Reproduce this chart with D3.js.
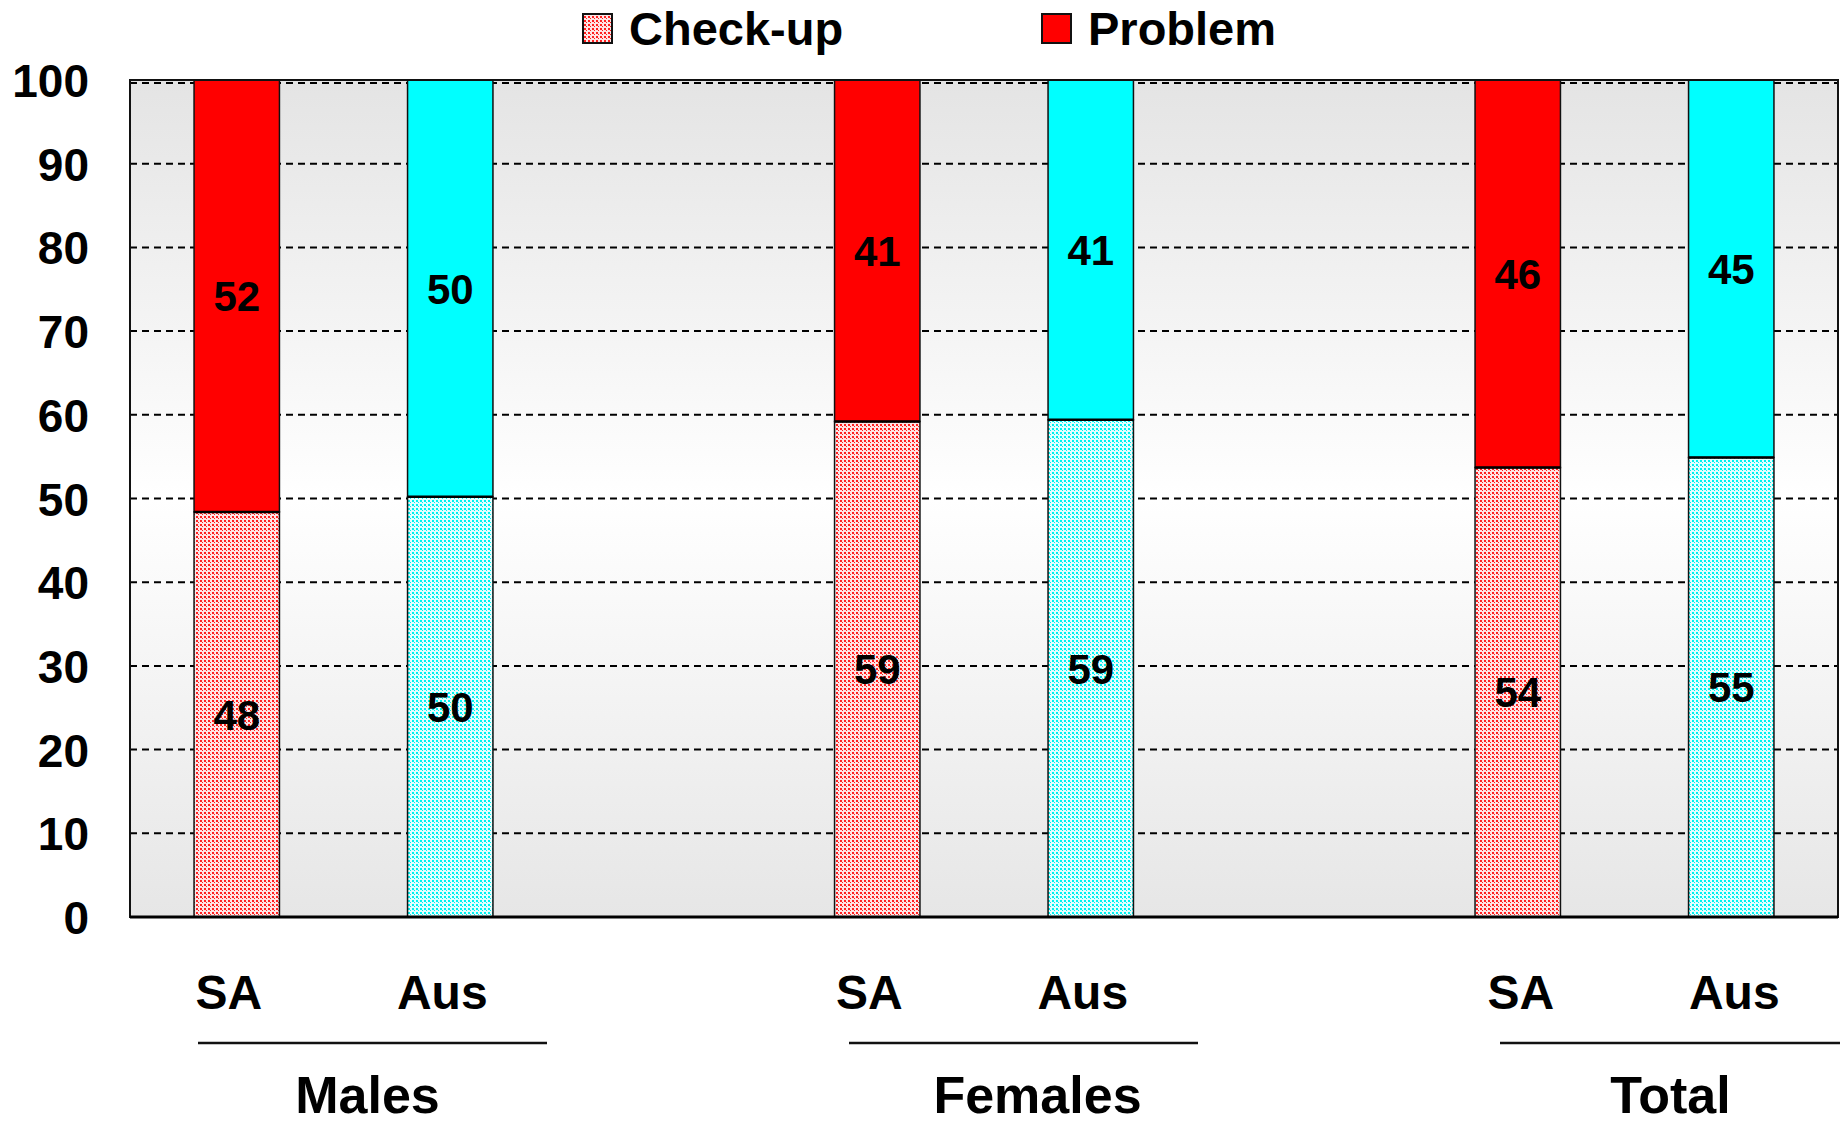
<!DOCTYPE html>
<html><head><meta charset="utf-8">
<script src="https://cdn.jsdelivr.net/npm/d3@7"></script>
<style>html,body{margin:0;padding:0;background:#fff;}svg{display:block;font-family:"Liberation Sans",Arial,sans-serif;font-weight:bold;}</style>
</head><body><svg id="c" width="1840" height="1126"></svg>
<script>
const groups = ["Males", "Females", "Total"];
const regions = ["SA", "Aus"];
const checkup = [48.4, 50.2, 59.2, 59.4, 53.7, 54.9];
const problem = [51.6, 49.8, 40.8, 40.6, 46.3, 45.1];
const yTicks = [0, 10, 20, 30, 40, 50, 60, 70, 80, 90, 100];
const legendLabels = ["Check-up", "Problem"];

const svg = d3.select("#c");
const L = 130, R = 1838, T = 80, B = 917;

const slots = [];
const bars = [];
groups.forEach((g, gi) => {
  regions.forEach((r, ri) => {
    const k = g + "-" + r;
    slots.push(k);
    const i = gi * 2 + ri;
    bars.push({key: k, group: g, region: r, gi, ri, check: checkup[i], prob: problem[i]});
  });
  if (gi < groups.length - 1) slots.push("gap" + gi);
});

const x = d3.scaleBand().domain(slots).range([L, R]).paddingInner(0.6).paddingOuter(0.3);
const y = d3.scaleLinear().domain([0, 100]).range([B, T]);

const defs = svg.append("defs");
const grad = defs.append("linearGradient").attr("id", "bg").attr("x1", 0).attr("y1", 0).attr("x2", 0).attr("y2", 1);
grad.append("stop").attr("offset", "0%").attr("stop-color", "#e4e4e4");
grad.append("stop").attr("offset", "50%").attr("stop-color", "#ffffff");
grad.append("stop").attr("offset", "100%").attr("stop-color", "#e6e6e6");

function mkPattern(id, base, dot) {
  const p = defs.append("pattern").attr("id", id).attr("patternUnits", "userSpaceOnUse").attr("width", 4).attr("height", 4);
  p.append("rect").attr("width", 4).attr("height", 4).attr("fill", base);
  p.append("rect").attr("x", 0).attr("y", 0).attr("width", 2).attr("height", 2).attr("fill", dot);
  p.append("rect").attr("x", 2).attr("y", 2).attr("width", 1).attr("height", 1).attr("fill", dot);
}
mkPattern("patR", "#ffe4e4", "#ff2020");
mkPattern("patC", "#e4ffff", "#00f0f0");

svg.append("rect").attr("x", L).attr("y", T).attr("width", R - L).attr("height", B - T).attr("fill", "url(#bg)");

svg.append("g").selectAll("line").data(yTicks.filter(d => d > 0)).join("line")
  .attr("x1", L).attr("x2", R).attr("y1", d => y(d) + (d === 100 ? 3 : 0)).attr("y2", d => y(d) + (d === 100 ? 3 : 0))
  .attr("stroke", "#000").attr("stroke-width", 2).attr("stroke-dasharray", "7,5");

const bw = x.bandwidth();
const bg = svg.append("g");
bars.forEach(b => {
  const isSA = b.ri === 0;
  bg.append("rect").attr("x", x(b.key)).attr("width", bw)
    .attr("y", y(b.check)).attr("height", y(0) - y(b.check))
    .attr("fill", isSA ? "url(#patR)" : "url(#patC)").attr("stroke", "#111").attr("stroke-width", 1.5);
  bg.append("rect").attr("x", x(b.key)).attr("width", bw)
    .attr("y", y(b.check + b.prob)).attr("height", y(b.check) - y(b.check + b.prob))
    .attr("fill", isSA ? "#ff0000" : "#00ffff").attr("stroke", "#111").attr("stroke-width", 1.5);
  bg.append("line").attr("x1", x(b.key)).attr("x2", x(b.key) + bw).attr("y1", y(b.check)).attr("y2", y(b.check))
    .attr("stroke", "#000").attr("stroke-width", 2.5);
  bg.append("text").attr("x", x(b.key) + bw / 2).attr("y", y(b.check / 2)).attr("dy", "0.36em")
    .attr("text-anchor", "middle").attr("font-size", 42).text(Math.round(b.check));
  bg.append("text").attr("x", x(b.key) + bw / 2).attr("y", y(b.check + b.prob / 2)).attr("dy", "0.36em")
    .attr("text-anchor", "middle").attr("font-size", 42).text(Math.round(b.prob));
});

svg.append("rect").attr("x", L).attr("y", T).attr("width", R - L).attr("height", B - T)
  .attr("fill", "none").attr("stroke", "#111").attr("stroke-width", 2);
svg.append("line").attr("x1", L).attr("x2", R).attr("y1", B).attr("y2", B).attr("stroke", "#000").attr("stroke-width", 3);

const ya = svg.append("g").attr("transform", `translate(${L},0)`)
  .call(d3.axisLeft(y).tickValues(yTicks).tickSize(0).tickPadding(41));
ya.select(".domain").remove();
ya.selectAll("text").attr("font-size", 46).attr("font-family", "Liberation Sans, Arial, sans-serif").attr("font-weight", "bold").attr("fill", "#000").attr("dy", "0.36em");

const catOffset = [-8, -8, 3];
svg.append("g").selectAll("text").data(bars).join("text")
  .attr("x", d => x(d.key) + bw / 2 + catOffset[d.gi]).attr("y", 992).attr("dy", "0.36em")
  .attr("text-anchor", "middle").attr("font-size", 48).text(d => d.region);

const gx = d3.scaleLinear().domain([0, 1]).range([198, 849]);
const lineW = 349;
groups.forEach((g, gi) => {
  const x0 = gx(gi);
  svg.append("line").attr("x1", x0).attr("x2", x0 + lineW).attr("y1", 1043).attr("y2", 1043)
    .attr("stroke", "#111").attr("stroke-width", 2.5);
  svg.append("text").attr("x", x0 + lineW / 2 + [-5, 14, -4][gi]).attr("y", 1094).attr("dy", "0.36em")
    .attr("text-anchor", "middle").attr("font-size", 52).text(g);
});

const leg = [{x: 583, fill: "url(#patR)"}, {x: 1042, fill: "#ff0000"}];
leg.forEach((l, i) => {
  svg.append("rect").attr("x", l.x).attr("y", 14).attr("width", 29).attr("height", 29)
    .attr("fill", l.fill).attr("stroke", "#111").attr("stroke-width", 2);
  svg.append("text").attr("x", l.x + 46).attr("y", 28).attr("dy", "0.36em")
    .attr("font-size", 47).text(legendLabels[i]);
});
</script></body></html>
